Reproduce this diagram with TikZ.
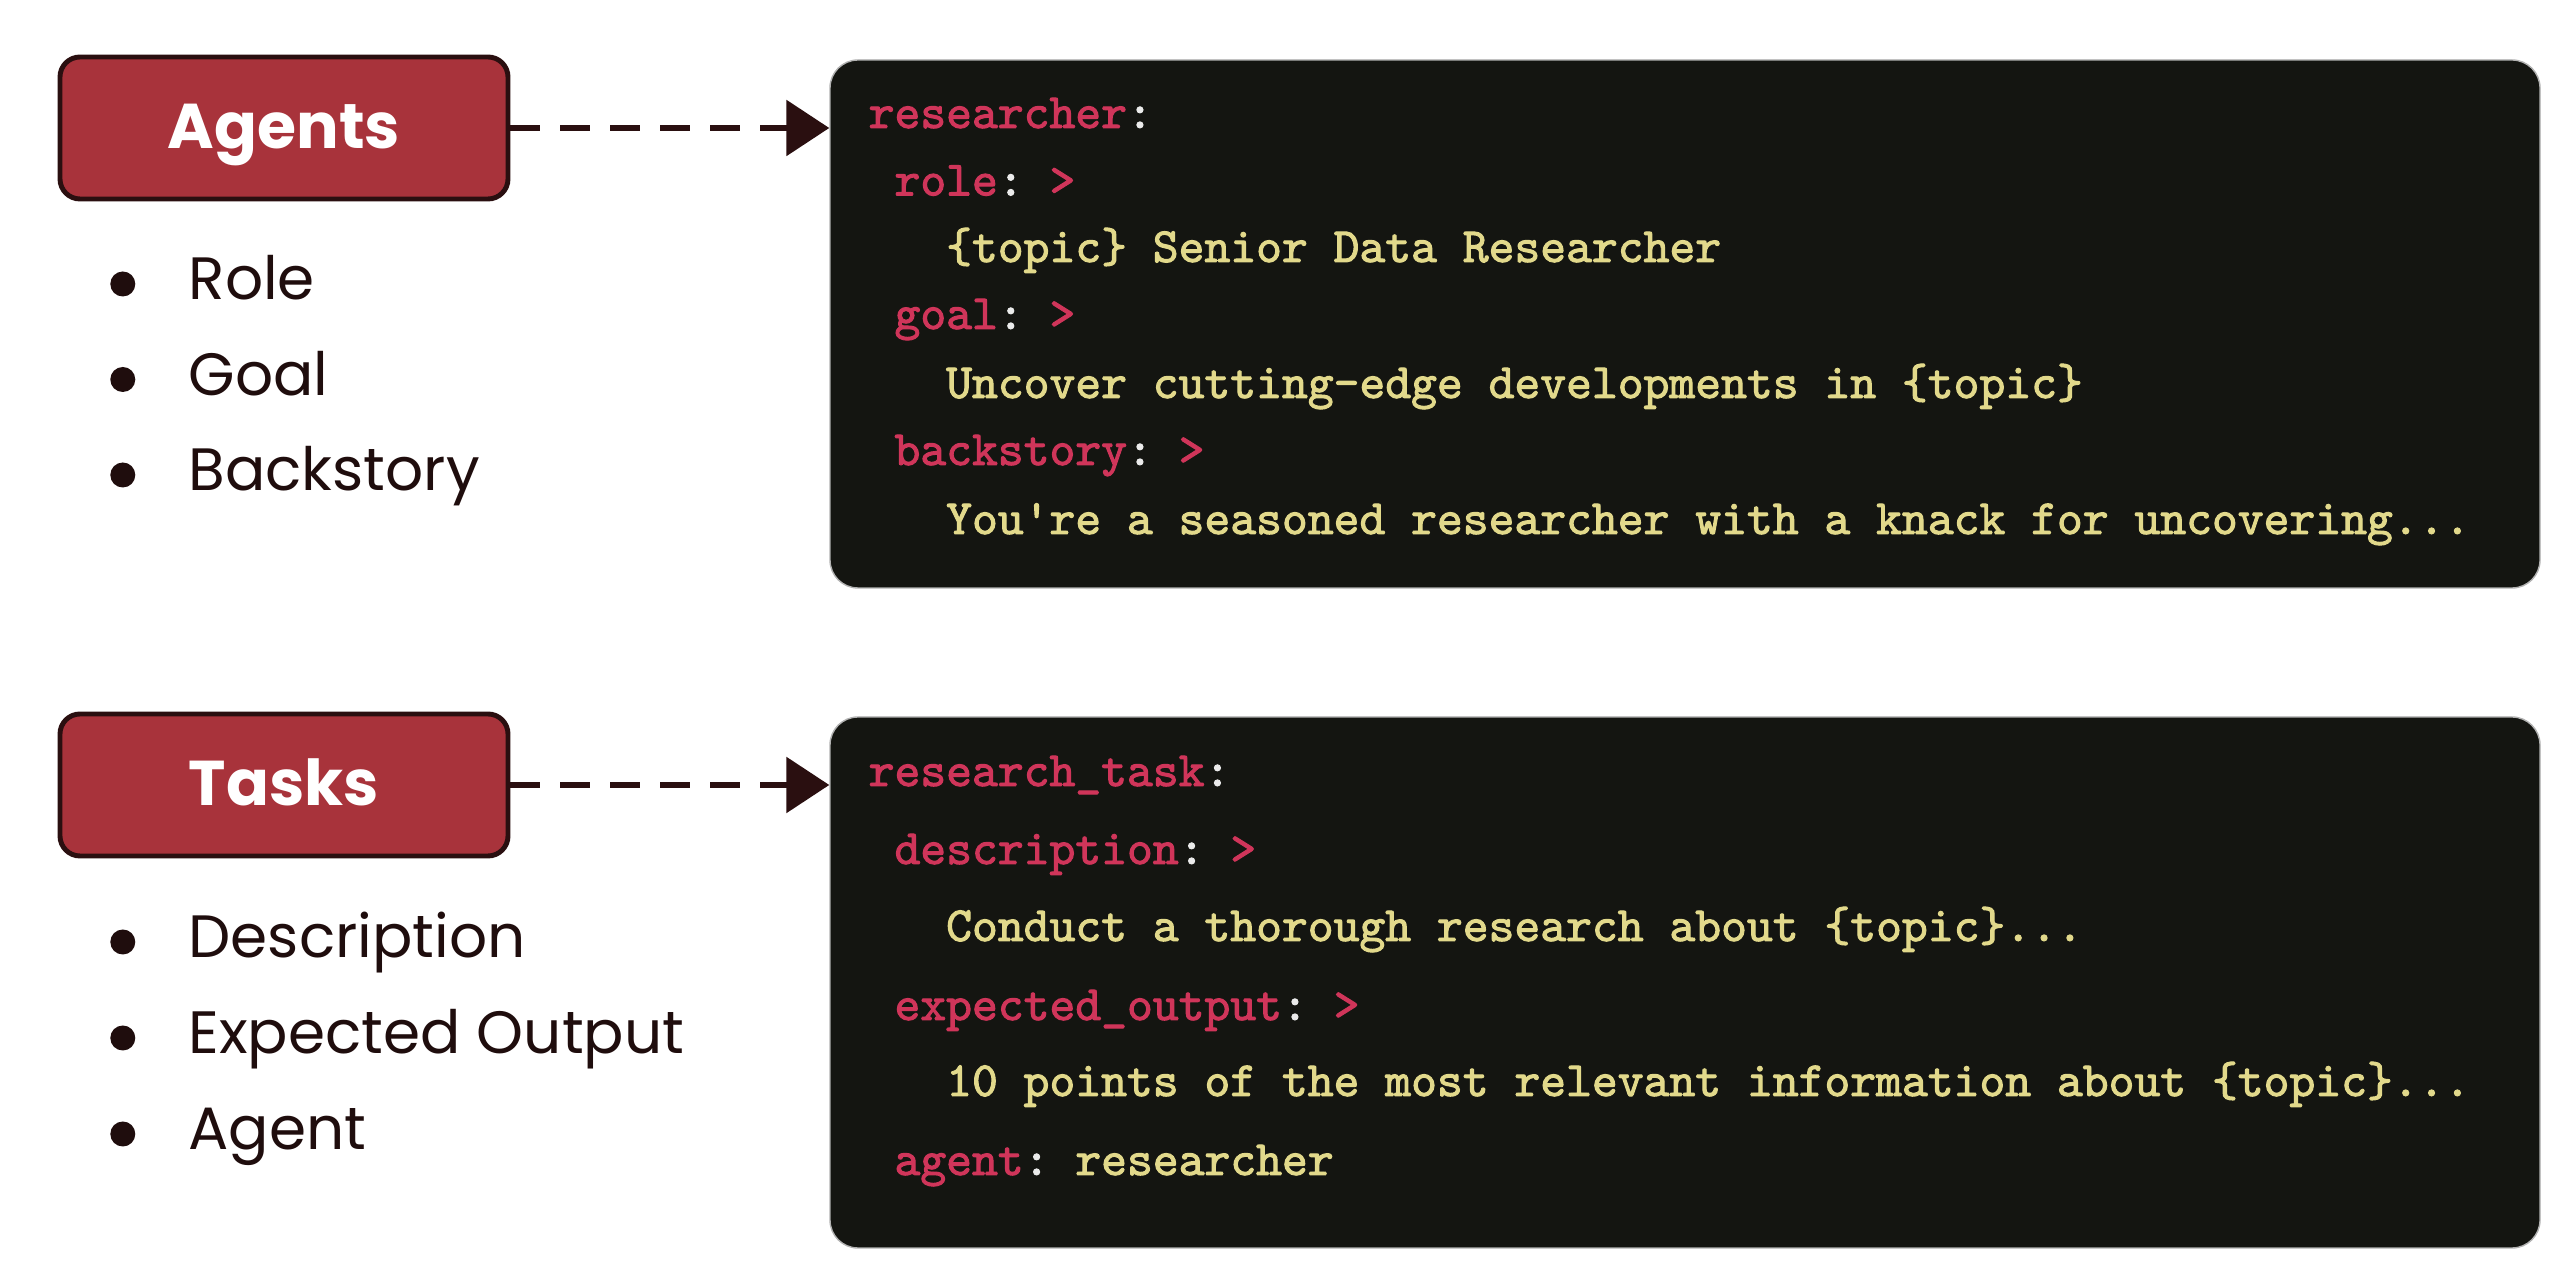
\documentclass[tikz,border=0pt]{standalone}
\usepackage{fontspec}
\setmainfont{Poppins}
\setmonofont{lmmono10-regular.otf}[FakeBold=2]
\usepackage{xcolor}
\usetikzlibrary{positioning, arrows.meta}

\definecolor{boxred}{HTML}{A8333B}
\definecolor{boxline}{HTML}{2A0F10}
\definecolor{codebg}{HTML}{141511}
\definecolor{keyred}{HTML}{D0355A}
\definecolor{valyel}{HTML}{E2D98B}
\definecolor{inkdark}{HTML}{1F0D0D}

\newcommand{\ykey}[1]{\textcolor{keyred}{#1}}
\newcommand{\ycolon}{\textcolor{white!92!black}{:}}

\tikzset{
  head/.style={draw=boxline, line width=1.4pt, fill=boxred, rounded corners=0.2cm,
    minimum width=4.48cm, minimum height=1.42cm, text=white,
    text height=0.42cm, text depth=0pt,
    font=\fontsize{18}{20}\selectfont\bfseries},
  codebox/.style={draw=gray!60, fill=codebg, rounded corners=0.28cm, minimum width=17.1cm},
  code/.style={anchor=base west, inner sep=0pt, text=valyel,
    font=\fontsize{14}{16}\selectfont\ttfamily},
  item/.style={anchor=base west, inner sep=0pt, text=inkdark, font=\fontsize{17}{20}\selectfont},
  dot/.style={circle, fill=inkdark, inner sep=0pt, minimum size=0.25cm},
  link/.style={draw=boxline, line width=1.7pt, dash pattern=on 0.3cm off 0.2cm,
    -{Triangle[length=0.43cm, width=0.55cm]}}
}

\begin{document}
\begin{tikzpicture}
\useasboundingbox[fill=white] (0,0) rectangle (25.6,12.7);

\node(agents)[head] at (2.84,11.42){Agents};
\node(tasks)[head] at (2.84,4.85){Tasks};

\node(agentcode)[codebox, minimum height=5.28cm] at (16.85,9.46){};
\node(taskcode)[codebox, minimum height=5.31cm] at (16.85,2.875){};

\draw[link] (agents) -- (agents -| agentcode.west);
\draw[link] (tasks) -- (tasks -| taskcode.west);

\node(role)[item] at (1.88,9.70){Role};
\node(goal)[below = 0.955cm of role.base west, item]{Goal};
\node(backstory)[below = 0.955cm of goal.base west, item]{Backstory};
\node(desc)[item] at (1.88,3.12){Description};
\node(expout)[below = 0.96cm of desc.base west, item]{Expected Output};
\node(agent)[below = 0.96cm of expout.base west, item]{Agent};

\node(d1)[dot, left = 0.52cm of role.base west, yshift=0.16cm]{};
\node(d2)[dot, left = 0.52cm of goal.base west, yshift=0.16cm]{};
\node(d3)[dot, left = 0.52cm of backstory.base west, yshift=0.16cm]{};
\node(d4)[dot, left = 0.52cm of desc.base west, yshift=0.16cm]{};
\node(d5)[dot, left = 0.52cm of expout.base west, yshift=0.16cm]{};
\node(d6)[dot, left = 0.52cm of agent.base west, yshift=0.16cm]{};

\node(a1)[code] at (8.68,11.42){\ykey{researcher}\ycolon};
\node(a2)[below = 0.675cm of a1.base west, code]{~\ykey{role}\ycolon{} \ykey{>}};
\node(a3)[below = 0.665cm of a2.base west, code]{~~~\{topic\} Senior Data Researcher};
\node(a4)[below = 0.67cm of a3.base west, code]{~\ykey{goal}\ycolon{} \ykey{>}};
\node(a5)[below = 0.69cm of a4.base west, code]{~~~Uncover cutting-edge developments in \{topic\}};
\node(a6)[below = 0.67cm of a5.base west, code]{~\ykey{backstory}\ycolon{} \ykey{>}};
\node(a7)[below = 0.69cm of a6.base west, code]{~~~You're a seasoned researcher with a knack for uncovering...};

\node(b1)[code] at (8.68,4.84){\ykey{research\_task}\ycolon};
\node(b2)[below = 0.78cm of b1.base west, code]{~\ykey{description}\ycolon{} \ykey{>}};
\node(b3)[below = 0.77cm of b2.base west, code]{~~~Conduct a thorough research about \{topic\}...};
\node(b4)[below = 0.79cm of b3.base west, code]{~\ykey{expected\_output}\ycolon{} \ykey{>}};
\node(b5)[below = 0.76cm of b4.base west, code]{~~~10 points of the most relevant information about \{topic\}...};
\node(b6)[below = 0.79cm of b5.base west, code]{~\ykey{agent}\ycolon{} researcher};
\end{tikzpicture}
\end{document}
